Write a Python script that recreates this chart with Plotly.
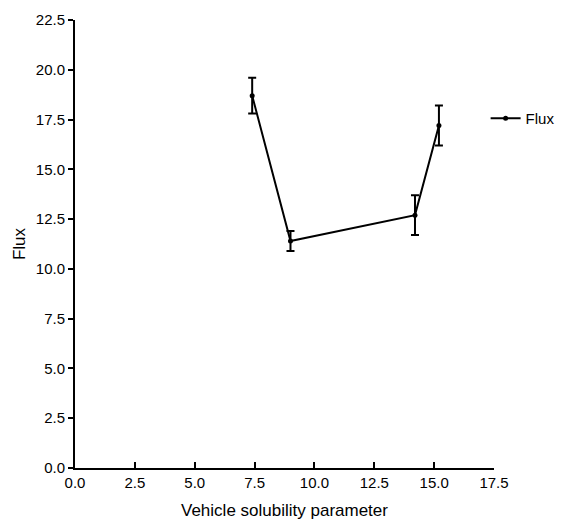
import plotly.graph_objects as go

solubility = [7.4, 9.0, 14.2, 15.2]
flux = [18.7, 11.4, 12.7, 17.2]
flux_err = [0.9, 0.5, 1.0, 1.0]

fig = go.Figure()
fig.add_trace(go.Scatter(
    x=solubility, y=flux, name="Flux", mode="lines+markers",
    line=dict(color="black", width=2),
    marker=dict(color="black", size=5),
    error_y=dict(type="data", array=flux_err, color="black", thickness=2, width=4),
))

fig.update_layout(
    width=574, height=529,
    margin=dict(l=75, r=80, t=20, b=61),
    paper_bgcolor="white", plot_bgcolor="white",
    font=dict(family="Liberation Sans, Arial, sans-serif", color="black", size=15),
    showlegend=True,
    legend=dict(x=0.98, y=0.78, xanchor="left", yanchor="middle",
                font=dict(size=15), bgcolor="rgba(0,0,0,0)",
                itemwidth=30, tracegroupgap=0, borderwidth=0),
    xaxis=dict(range=[0, 17.5], tick0=0, dtick=2.5, tickformat=".1f",
               showgrid=False, zeroline=False, showline=True, linecolor="black", linewidth=2,
               ticks="inside", ticklen=6, tickwidth=2, tickcolor="black",
               title=dict(text="Vehicle solubility parameter", font=dict(size=17), standoff=14)),
    yaxis=dict(range=[0, 22.5], tick0=0, dtick=2.5, tickformat=".1f",
               showgrid=False, zeroline=False, showline=True, linecolor="black", linewidth=2,
               ticks="outside", ticklen=5, tickwidth=2, tickcolor="black",
               title=dict(text="Flux", font=dict(size=17), standoff=6)),
)

fig.write_html("out.html")
